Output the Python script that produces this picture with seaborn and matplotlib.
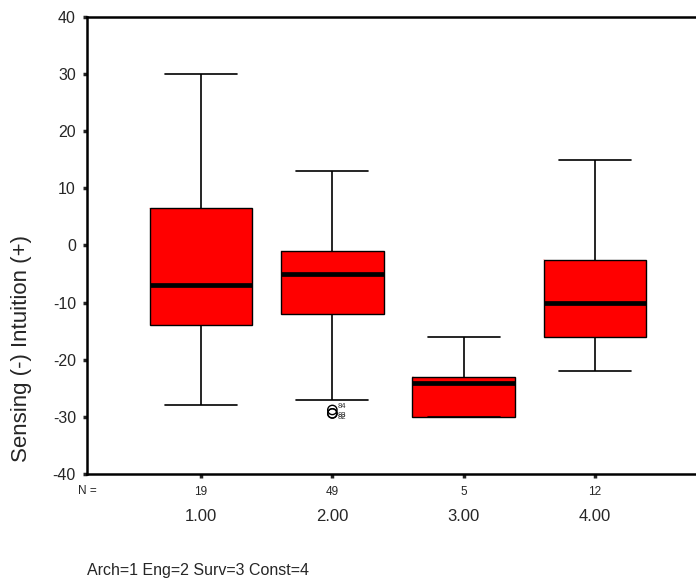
import numpy as np
import pandas as pd
import matplotlib
matplotlib.use("Agg")
import matplotlib.pyplot as plt
import matplotlib.transforms as mtransforms
import seaborn as sns

# ---- data ----
categories = ["1.00", "2.00", "3.00", "4.00"]
n_counts = [19, 49, 5, 12]
whisker_low = [-28, -27, -30, -22]
q1_values = [-14, -12, -30, -16]
medians = [-7, -5, -24, -10]
q3_values = [6.5, -1, -23, -2.5]
whisker_high = [30, 13, -16, 15]
outlier_group = [1, 1, 1]
outlier_values = [-28.8, -29.4, -29.4]
outlier_ids = ["84", "83", "82"]
yticks = [-40, -30, -20, -10, 0, 10, 20, 30, 40]
ylabel = "Sensing (-) Intuition (+)"
footer = "Arch=1 Eng=2 Surv=3 Const=4"

rows = []
for cat, lo, a, m, b, hi in zip(categories, whisker_low, q1_values, medians,
                                q3_values, whisker_high):
    for v in (lo, a, m, b, hi):
        rows.append({"group": cat, "score": v})
df = pd.DataFrame(rows)

sns.set_style("white")
plt.rcParams["font.family"] = ["Liberation Sans", "DejaVu Sans"]

fig = plt.figure(figsize=(6.96, 5.82), dpi=100)
ax = fig.add_axes([0.125, 0.1856, 0.8937, 0.7857])

box_w = 0.78
sns.boxplot(data=df, x="group", y="score", order=categories, color="#ff0000",
            saturation=1, width=box_w, whis=np.inf, linecolor="black",
            linewidth=1.0, fliersize=0,
            medianprops=dict(linewidth=3.4, color="black", solid_capstyle="butt"),
            whiskerprops=dict(linewidth=1.2),
            capprops=dict(linewidth=1.2),
            ax=ax)

# widen whisker caps (SPSS style)
cap_w = 0.55
for c in ax.containers:
    caps = getattr(c, "caps", None)
    if caps is None:
        continue
    for cap in caps:
        xd = np.asarray(cap.get_xdata(), dtype=float)
        mid = xd.mean()
        cap.set_xdata([mid - cap_w / 2, mid + cap_w / 2])

# faint diagonal inside each box
for i, (a, b) in enumerate(zip(q1_values, q3_values)):
    ax.plot([i - box_w / 2, i + box_w / 2], [b, a], color="#ff8080",
            lw=0.6, zorder=1.5)

# outliers
ax.scatter(outlier_group, outlier_values, s=45, facecolors="none",
           edgecolors="black", linewidths=1.0, zorder=4)
label_offsets = [2.5, -1.5, -3.0]
for g, v, t, dy in zip(outlier_group, outlier_values, outlier_ids, label_offsets):
    ax.annotate(t, (g, v), xytext=(4, dy), textcoords="offset points",
                fontsize=5.5, color="#333333", va="center", ha="left")

ax.set_xlim(-0.868, 3.868)
ax.set_ylim(-40, 40)
ax.set_yticks(yticks)
ax.set_yticklabels([str(t) for t in yticks])
ax.set_xticks(range(len(categories)))
ax.set_xticklabels([str(n) for n in n_counts])
ax.tick_params(axis="y", direction="out", length=3, width=2.5, labelsize=11.5,
               pad=5, left=True)
ax.tick_params(axis="x", direction="out", length=3, width=2.5, labelsize=8.5,
               pad=6, bottom=True)
ax.set_xlabel("")
ax.set_ylabel("")

for side in ["left", "top", "bottom"]:
    ax.spines[side].set_visible(True)
    ax.spines[side].set_linewidth(1.8)
    ax.spines[side].set_color("black")
ax.spines["right"].set_visible(False)

trans = mtransforms.blended_transform_factory(ax.transData, ax.transAxes)
ax.text(-0.868, -0.037, "N =", transform=trans, ha="center", va="center",
        fontsize=8.5)
for i, cat in enumerate(categories):
    ax.text(i, -0.094, cat, transform=trans, ha="center", va="center",
            fontsize=12)

fig.text(22 / 696, 1 - 348 / 582, ylabel, rotation=90, ha="center",
         va="center", fontsize=16)
fig.text(87 / 696, 1 - 570 / 582, footer, ha="left", va="center",
         fontsize=11.5)

fig.savefig("out.png", dpi=100)
